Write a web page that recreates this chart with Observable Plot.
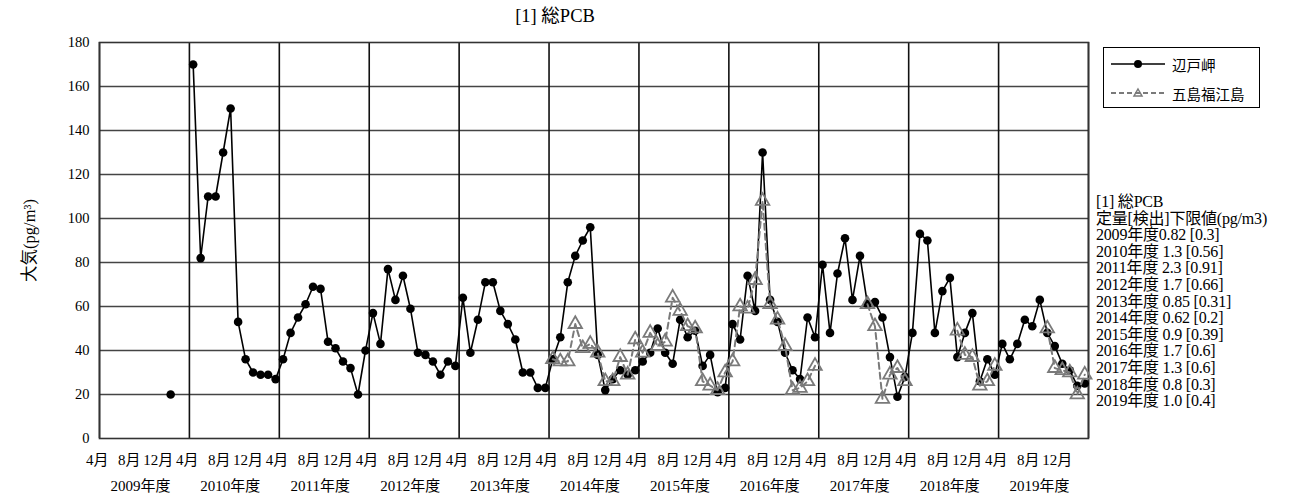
<!DOCTYPE html>
<html><head><meta charset="utf-8">
<script src="https://cdn.jsdelivr.net/npm/d3@7"></script>
<script src="https://cdn.jsdelivr.net/npm/@observablehq/plot@0.6"></script>
<style>
body{margin:0;background:#fff;}
#wrap{position:relative;width:1295px;height:501px;font-family:"Liberation Serif","Noto Sans CJK JP",serif;color:#000;}
#title{position:absolute;left:0;top:0;width:1110px;height:28px;line-height:32px;text-align:center;font-size:18.5px;}
#chart{position:absolute;left:0;top:28px;}
#chart g[aria-label="y-axis label"] text{font-size:16.5px;}
#legend{position:absolute;left:1103px;top:47px;width:157px;height:61px;border:1.5px solid #000;box-sizing:border-box;font-size:14.5px;}
#legend .row{position:absolute;left:6px;height:20px;display:flex;align-items:center;}
#note{position:absolute;left:1096px;top:194px;font-size:16px;line-height:16.6px;white-space:nowrap;letter-spacing:-0.2px;}
</style></head>
<body>
<div id="wrap">
  <div id="title"></div>
  <div id="chart"></div>
  <div id="legend"></div>
  <div id="note"></div>
</div>
<script>
// ---------- data ----------
const chartTitle = "[1] 総PCB";
const yLabel = "大気(pg/m³)";
const fiscalYears = [2009, 2010, 2011, 2012, 2013, 2014, 2015, 2016, 2017, 2018, 2019];
const yearSuffix = "年度";
const monthLabels = ["4月", "8月", "12月"];   // fiscal months shown on the axis
const monthLabelIndex = [0, 4, 8];             // month index within fiscal year (Apr = 0)
const yTicks = [0, 20, 40, 60, 80, 100, 120, 140, 160, 180];
const seriesNames = ["辺戸岬", "五島福江島"];

// monthly values, fiscal year Apr..Mar
const henoko = [
  null, null, null, null, null, null, null, null, null, 20, null, null,   // 2009
  170, 82, 110, 110, 130, 150, 53, 36, 30, 29, 29, 27,                   // 2010
  36, 48, 55, 61, 69, 68, 44, 41, 35, 32, 20, 40,                        // 2011
  57, 43, 77, 63, 74, 59, 39, 38, 35, 29, 35, 33,                        // 2012
  64, 39, 54, 71, 71, 58, 52, 45, 30, 30, 23, 23,                        // 2013
  36, 46, 71, 83, 90, 96, 38, 22, 27, 31, 29, 31,                        // 2014
  35, 39, 50, 39, 34, 54, 46, 49, 33, 38, 21, 23,                        // 2015
  52, 45, 74, 58, 130, 63, 53, 39, 31, 27, 55, 46,                       // 2016
  79, 48, 75, 91, 63, 83, 61, 62, 55, 37, 19, 28,                        // 2017
  48, 93, 90, 48, 67, 73, 37, 48, 57, 26, 36, 29,                        // 2018
  43, 36, 43, 54, 51, 63, 48, 42, 34, 31, 24, 25                         // 2019
];
const fukue = [
  null, null, null, null, null, null, null, null, null, null, null, null, // 2009
  null, null, null, null, null, null, null, null, null, null, null, null, // 2010
  null, null, null, null, null, null, null, null, null, null, null, null, // 2011
  null, null, null, null, null, null, null, null, null, null, null, null, // 2012
  null, null, null, null, null, null, null, null, null, null, null, null, // 2013
  36, 35, 35, 52, 41, 43, 39, 26, 26, 37, 29, 45,                        // 2014
  39, 48, 42, 44, 64, 58, 51, 50, 26, 24, 22, 30,                        // 2015
  35, 60, 59, 72, 108, 61, 54, 42, 22, 23, 26, 33,                       // 2016
  null, null, null, null, null, null, 61, 51, 18, 29, 32, 26,            // 2017
  null, null, null, null, null, null, 49, 38, 37, 24, 26, 33,            // 2018
  null, null, null, null, null, null, 50, 32, 31, 30, 20, 29             // 2019
];

const noteLines = [
  "[1] 総PCB",
  "定量[検出]下限値(pg/m3)",
  "2009年度0.82 [0.3]",
  "2010年度 1.3 [0.56]",
  "2011年度 2.3 [0.91]",
  "2012年度 1.7 [0.66]",
  "2013年度 0.85 [0.31]",
  "2014年度 0.62 [0.2]",
  "2015年度 0.9 [0.39]",
  "2016年度 1.7 [0.6]",
  "2017年度 1.3 [0.6]",
  "2018年度 0.8 [0.3]",
  "2019年度 1.0 [0.4]"
];

// ---------- build tables ----------
const nMonths = fiscalYears.length * 12;
const hData = henoko.map((v, i) => ({i, v}));
const gData = fukue.map((v, i) => ({i, v}));
const boundaries = d3.range(0, nMonths + 1, 12);
const monthTickData = fiscalYears.flatMap((y, k) => monthLabels.map((t, j) => ({x: k * 12 + monthLabelIndex[j] + 0.5, t, j})));
const yearTickData = fiscalYears.map((y, k) => ({x: k * 12 + 6, t: y + yearSuffix}));
const gridY = yTicks.filter(t => t > 0 && t < 180);
const labelShift = [-6, -4, -5]; // pixel nudges for 4月 / 8月 / 12月 labels

const serif = "'Liberation Serif','Noto Sans CJK JP',serif";
const chart = Plot.plot({
  width: 1295,
  height: 473,
  marginLeft: 99,
  marginRight: 207,
  marginTop: 14,
  marginBottom: 63,
  style: {fontFamily: serif, fontSize: "14.5px", color: "#000", background: "#fff"},
  x: {domain: [0, nMonths], axis: null},
  y: {domain: [0, 180], ticks: yTicks, tickSize: 0, tickPadding: 10, label: yLabel, labelAnchor: "center", labelArrow: "none", labelOffset: 76},
  marks: [
    Plot.ruleY(gridY, {stroke: "#444", strokeWidth: 1.3}),
    Plot.ruleX(boundaries, {stroke: "#111", strokeWidth: 1.6}),
    Plot.frame({stroke: "#333", strokeWidth: 1.6}),
    Plot.line(hData, {x: d => d.i + 0.5, y: "v", stroke: "#000", strokeWidth: 1.6}),
    Plot.dot(hData.filter(d => d.v != null), {x: d => d.i + 0.5, y: "v", r: 4.3, fill: "#000", stroke: "none"}),
    Plot.line(gData, {x: d => d.i + 0.5, y: "v", stroke: "#7a7a7a", strokeWidth: 2, strokeDasharray: "6,4"}),
    Plot.dot(gData.filter(d => d.v != null), {x: d => d.i + 0.5, y: "v", symbol: "triangle", r: 5, fill: "none", stroke: "#7a7a7a", strokeWidth: 1.8}),
    ...monthLabels.map((m, j) =>
      Plot.text(monthTickData.filter(d => d.j === j), {x: "x", text: "t", frameAnchor: "bottom", dy: 26, dx: labelShift[j], fontSize: 15})
    ),
    Plot.text(yearTickData, {x: "x", text: "t", frameAnchor: "bottom", dy: 52, dx: -4, fontSize: 15})
  ]
});
document.getElementById("chart").appendChild(chart);
document.getElementById("title").textContent = chartTitle;

// legend
const legend = document.getElementById("legend");
const styles = [
  {stroke: "#000", dash: null, sym: "circle"},
  {stroke: "#7a7a7a", dash: "5,3", sym: "triangle"}
];
seriesNames.forEach((name, k) => {
  const row = document.createElement("div");
  row.className = "row";
  row.style.top = (k === 0 ? 6 : 35) + "px";
  const s = styles[k];
  const marker = s.sym === "circle"
    ? `<circle cx="28" cy="10" r="4" fill="#000"/>`
    : `<path d="M28,6 L32,13 L24,13 Z" fill="none" stroke="${s.stroke}" stroke-width="1.5"/>`;
  row.innerHTML = `<svg width="58" height="20"><line x1="1" x2="55" y1="10" y2="10" stroke="${s.stroke}" stroke-width="${k === 0 ? 1.6 : 2}" ${s.dash ? `stroke-dasharray="${s.dash}"` : ""}/>${marker}</svg><span style="margin-left:4px">${name}</span>`;
  legend.appendChild(row);
});

// notes
document.getElementById("note").innerHTML = noteLines.map(l => `<div>${l}</div>`).join("");
</script>
</body></html>
